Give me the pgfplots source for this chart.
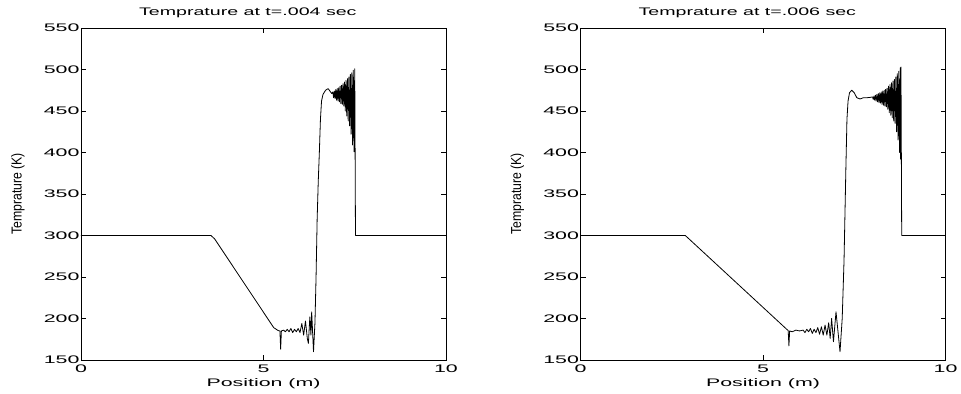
\documentclass[border=0pt]{standalone}
\usepackage{fontspec}
\setmainfont{Liberation Sans}
\usepackage{graphicx}
\usepackage{pgfplots}
\pgfplotsset{compat=1.18}
\newcommand{\fs}{\fontsize{11}{13}\selectfont}
\newcommand{\wide}[1]{{\fs\scalebox{1.95}[1]{#1}}}
\pgfplotsset{
  mat/.style={
    scale only axis, width=365bp, height=332bp,
    anchor=south west,
    xmin=0, xmax=10, ymin=150, ymax=550,
    xtick={0,5,10}, ytick={150,200,...,550},
    tick align=inside, major tick length=5bp,
    tick style={black, line width=0.6bp},
    axis line style={black, line width=0.8bp},
    /pgf/number format/assume math mode=true,
    xticklabel={\wide{\pgfmathprintnumber{\tick}}},
    yticklabel={\wide{\pgfmathprintnumber{\tick}}},
    xticklabel shift=1.5bp, yticklabel shift=-2bp,
    xlabel style={at={(axis description cs:0.5,0)}, anchor=base, yshift=-26bp},
    ylabel style={at={(axis description cs:0,0.5)}, anchor=center, yshift=63bp},
    title style={at={(axis description cs:0.457,1)}, anchor=base, yshift=7bp},
    xlabel={\wide{Position (m)}},
    ylabel={\fontsize{14.5}{16}\selectfont\scalebox{0.85}[1]{Temprature (K)}},
  }
}
\begin{document}
\begin{tikzpicture}
\useasboundingbox (-81bp,-34bp) rectangle (880bp,360bp);
\begin{axis}[mat, at={(0bp,0bp)}, title={\fs\scalebox{1.79}[1]{Temprature at t=.004 sec}}]
\addplot[black, line width=0.8bp, line join=round, mark=none] coordinates {
(0,300)(3.56,300)(3.66,296)(5.28,189)(5.40,185.5)(5.45,185)(5.47,163)(5.49,185)
(5.55,186)(5.60,184)(5.65,187)(5.70,184)(5.75,188)(5.80,183)(5.85,187)(5.90,184)
(5.95,188)(6.00,183)(6.05,194)(6.10,180)(6.15,197)(6.20,176)(6.23,170)(6.27,202)
(6.30,180)(6.32,208)(6.37,160)(6.41,195)(6.44,250)(6.47,320)(6.50,365)(6.53,400)
(6.56,440)(6.59,462)(6.63,470)(6.70,475)(6.77,477)(6.82,474)(6.87,471)
(6.90,473)(6.92,466)(6.94,474)(6.96,465)(6.98,476)(7.00,463)(7.02,477)(7.04,462)
(7.06,478)(7.08,461)(7.10,480)(7.12,459)(7.14,481)(7.16,458)(7.18,483)(7.20,456)
(7.22,485)(7.24,450)(7.26,487)(7.28,444)(7.30,489)(7.32,438)(7.34,491)(7.36,432)
(7.38,494)(7.40,422)(7.42,496)(7.44,409)(7.46,499)(7.48,401)(7.50,501)
(7.52,300)(10,300)
};
\end{axis}
\begin{axis}[mat, at={(499.5bp,0bp)}, title={\fs\scalebox{1.79}[1]{Temprature at t=.006 sec}}]
\addplot[black, line width=0.8bp, line join=round, mark=none] coordinates {
(0,300)(2.87,300)(2.97,296)(5.65,187)(5.69,185.5)(5.71,167)(5.73,185)
(5.80,184)(5.90,186)(6.00,185)(6.10,186)(6.15,183)(6.20,187)(6.25,184)(6.30,188)
(6.35,182)(6.40,187)(6.45,183)(6.50,189)(6.55,181)(6.60,190)(6.65,180)(6.70,192)
(6.75,180)(6.80,195)(6.84,176)(6.88,200)(6.93,172)(7.00,208)(7.11,160)
(7.17,200)(7.22,270)(7.27,380)(7.30,440)(7.33,462)(7.37,472)(7.43,475)(7.50,472)
(7.57,466)(7.66,464.5)(7.75,466)(7.85,466)(7.95,466.5)
(8.00,467)(8.02,464)(8.04,468)(8.06,463)(8.08,469)(8.10,462)(8.12,470)(8.14,461)
(8.16,471)(8.18,460)(8.20,472)(8.22,459.5)(8.24,473)(8.26,458)(8.28,474)(8.30,457)
(8.32,475)(8.34,456)(8.36,476)(8.38,455)(8.40,477.5)(8.42,452)(8.44,480)(8.46,448)
(8.48,482)(8.50,445)(8.52,484)(8.54,442)(8.56,486)(8.58,438)(8.60,488)(8.62,435)
(8.64,491)(8.66,425)(8.68,495)(8.70,415)(8.72,498)(8.74,400)(8.76,502)(8.77,392)
(8.78,503)(8.80,300)(10,300)
};
\end{axis}
\end{tikzpicture}
\end{document}
